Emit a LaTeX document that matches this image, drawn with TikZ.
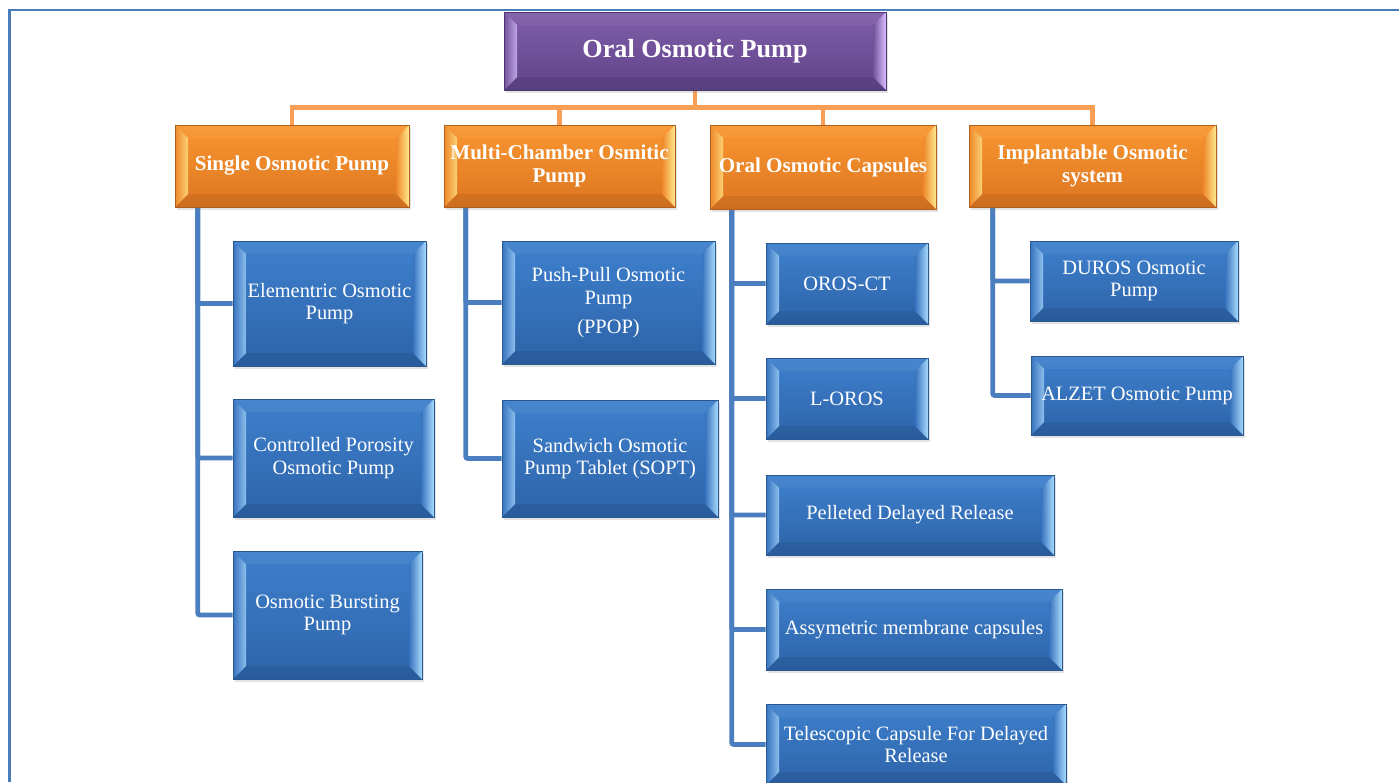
\documentclass[tikz,border=0pt]{standalone}
\usepackage{fontspec}
\setmainfont{Liberation Serif}
\usetikzlibrary{shadows,calc}
\pgfdeclarelayer{background}
\pgfsetlayers{background,main}

\definecolor{btop}{HTML}{3E80CD}
\definecolor{bbot}{HTML}{2D63A8}
\definecolor{bmid}{HTML}{3772BE}
\definecolor{blight}{HTML}{A8DAFC}
\definecolor{bborder}{HTML}{2A5890}
\definecolor{otop}{HTML}{F9962F}
\definecolor{obot}{HTML}{DD7622}
\definecolor{omid}{HTML}{EE8829}
\definecolor{olight}{HTML}{FFE98E}
\definecolor{oborder}{HTML}{B0601C}
\definecolor{ptop}{HTML}{815DAA}
\definecolor{pbot}{HTML}{5F4488}
\definecolor{pmid}{HTML}{72529B}
\definecolor{plight}{HTML}{D9C0FF}
\definecolor{pborder}{HTML}{4C3670}
\definecolor{orangeln}{HTML}{F89F55}
\definecolor{blueln}{HTML}{4A7EBE}
\definecolor{framec}{HTML}{4A7EBB}

\newcommand\bevelpic[3]{%
  \coordinate (pnw) at (path picture bounding box.north west);
  \coordinate (pne) at (path picture bounding box.north east);
  \coordinate (psw) at (path picture bounding box.south west);
  \coordinate (pse) at (path picture bounding box.south east);
  \coordinate (inw) at ([shift={(9.75pt,-9.75pt)}]pnw);
  \coordinate (ine) at ([shift={(-9.75pt,-9.75pt)}]pne);
  \coordinate (isw) at ([shift={(9.75pt,9.75pt)}]psw);
  \coordinate (ise) at ([shift={(-9.75pt,9.75pt)}]pse);
  \fill[white,opacity=0.05] (pnw) -- (pne) -- (ine) -- (inw) -- cycle;
  \fill[black,opacity=0.07] (psw) -- (pse) -- (ise) -- (isw) -- cycle;
  \shade[left color=#1, right color=#2!75!#1] (pnw) -- (inw) -- (isw) -- (psw) -- cycle;
  \shade[left color=#1, right color=#2] (pne) -- (ine) -- (ise) -- (pse) -- cycle;
}

\tikzset{
  x=0.75pt, y=-0.75pt,
  bevbase/.style={line width=0.5pt, text=white, align=center, inner sep=0pt,
    drop shadow={opacity=0.22, shadow xshift=1.8pt, shadow yshift=-2.2pt}},
  bluebox/.style={bevbase, draw=bborder, top color=btop, bottom color=bbot,
    font=\fontsize{15.3}{17}\selectfont,
    path picture={\bevelpic{bmid}{blight}{}}},
  orangebox/.style={bevbase, draw=oborder, top color=otop, bottom color=obot,
    font=\fontsize{15.8}{17.3}\selectfont\bfseries,
    path picture={\bevelpic{omid}{olight}{}}},
  purplebox/.style={bevbase, draw=pborder, top color=ptop, bottom color=pbot,
    font=\fontsize{19.6}{22}\selectfont\bfseries,
    path picture={\bevelpic{pmid}{plight}{}}},
  oline/.style={draw=orangeln, line width=3.6pt},
  bline/.style={draw=blueln, line width=3.5pt, rounded corners=1.5pt},
  framel/.style={draw=framec, line width=1.6pt},
}

\newcommand\bx[7]{\node[#2, minimum width={(#5-#3)*0.75pt}, minimum height={(#6-#4)*0.75pt}] (#1) at ({(#3+#5)/2},{(#4+#6)/2}) {#7};}

\begin{document}
\begin{tikzpicture}
\useasboundingbox (0,0) rectangle (1399,782);

\bx{root}{purplebox}{504}{12}{886}{90}{Oral Osmotic Pump}

\bx{L1}{orangebox}{175}{125}{409}{207}{Single Osmotic Pump}
\bx{L2}{orangebox}{444}{125}{675}{207}{Multi-Chamber Osmitic\\Pump}
\bx{L3}{orangebox}{710}{125}{936}{209}{Oral Osmotic Capsules}
\bx{L4}{orangebox}{969}{125}{1216}{207}{Implantable Osmotic\\system}

\bx{E1}{bluebox}{233}{241}{426}{366}{Elementric Osmotic\\Pump}
\bx{E2}{bluebox}{233}{399}{434}{517}{Controlled Porosity\\Osmotic Pump}
\bx{E3}{bluebox}{233}{551}{422}{679}{Osmotic Bursting\\Pump}

\bx{M1}{bluebox}{502}{241}{715}{364}{Push-Pull Osmotic\\Pump\\[5pt](PPOP)}
\bx{M2}{bluebox}{502}{400}{718}{517}{Sandwich Osmotic\\Pump Tablet (SOPT)}

\bx{C1}{bluebox}{766}{243}{928}{324}{OROS-CT}
\bx{C2}{bluebox}{766}{358}{928}{439}{L-OROS}
\bx{C3}{bluebox}{766}{475}{1054}{555}{Pelleted Delayed Release}
\bx{C4}{bluebox}{766}{589}{1062}{670}{Assymetric membrane capsules}
\bx{C5}{bluebox}{766}{704}{1066}{785}{Telescopic Capsule For Delayed\\Release}

\bx{I1}{bluebox}{1030}{241}{1238}{321}{DUROS Osmotic\\Pump}
\bx{I2}{bluebox}{1031}{356}{1243}{435}{ALZET Osmotic Pump}

\begin{pgfonlayer}{background}
  \draw[framel] (9.5,782) -- (9.5,10) -- (1399,10);

  \foreach \c in {L1,L2,L3,L4}
    \draw[oline] (root.south) -- ++(0,17) -| (\c.north);

  \coordinate (t1) at ([xshift=17.25pt]L1.south west);
  \coordinate (t2) at ([xshift=16.5pt]L2.south west);
  \coordinate (t3) at ([xshift=16.5pt]L3.south west);
  \coordinate (t4) at ([xshift=18pt]L4.south west);

  \foreach \c in {E1,E2,E3} \draw[bline] (t1) |- (\c.west);
  \foreach \c in {M1,M2} \draw[bline] (t2) |- (\c.west);
  \foreach \c in {C1,C2,C3,C4,C5} \draw[bline] (t3) |- (\c.west);
  \foreach \c in {I1,I2} \draw[bline] (t4) |- (\c.west);
\end{pgfonlayer}
\end{tikzpicture}
\end{document}
